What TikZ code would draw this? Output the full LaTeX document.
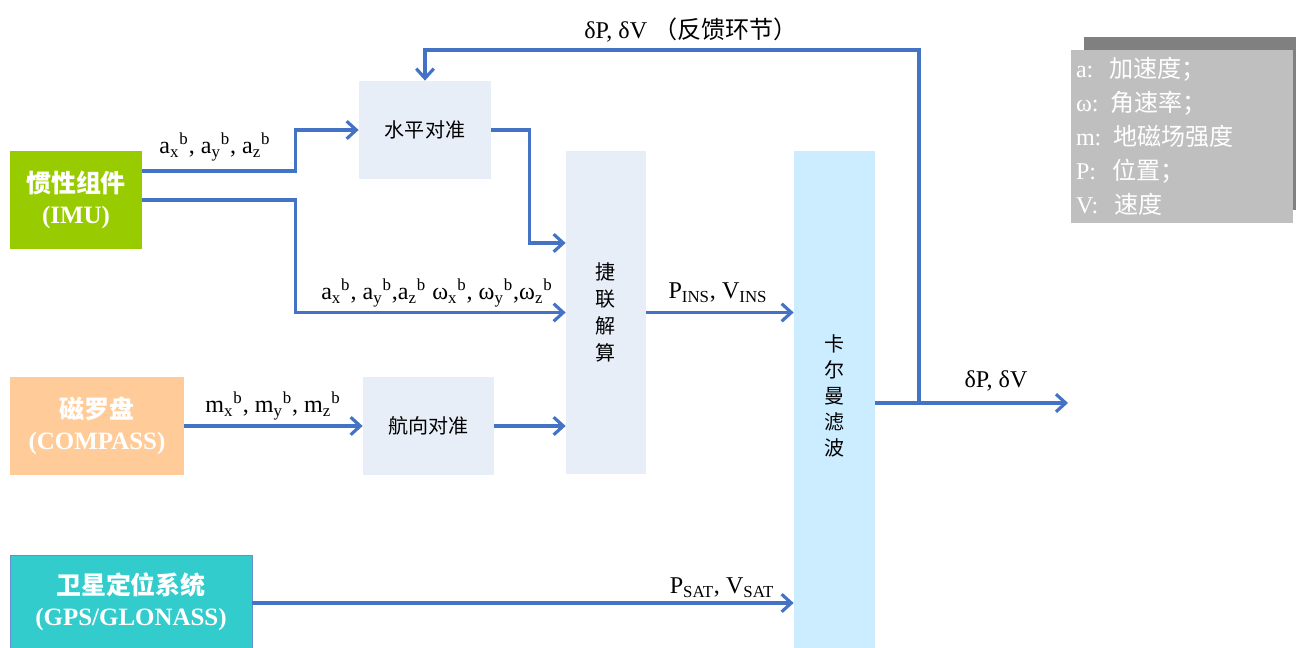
\documentclass[tikz,border=0pt]{standalone}
\usepackage{fontspec}
\setmainfont{Liberation Serif}
\newfontfamily\cjk{Noto Sans CJK SC}
\usetikzlibrary{arrows.meta}

\definecolor{lineblue}{HTML}{4472C4}
\definecolor{imugreen}{HTML}{99CC00}
\definecolor{compasspeach}{HTML}{FFCC99}
\definecolor{gpscyan}{HTML}{33CCCC}
\definecolor{algofill}{HTML}{E8EEF8}
\definecolor{kffill}{HTML}{CCECFF}
\definecolor{notegray}{HTML}{BFBFBF}
\definecolor{shadegray}{HTML}{808080}

\newcommand{\zh}[1]{{\cjk #1}}
\newcommand{\lo}[1]{\textsubscript{#1}}
\newcommand{\hi}[1]{\textsuperscript{#1}}

\begin{document}
\begin{tikzpicture}[line cap=butt,line join=miter,
  flow/.style={draw=lineblue,line width=1.8pt,-{Straight Barb[length=5.5pt,width=10pt,line width=1.8pt]}},
  source/.style={inner sep=0pt,align=center,text=white,font=\bfseries\fontsize{14.2}{17.6}\selectfont},
  algo/.style={fill=algofill,inner sep=0pt,align=center,font=\fontsize{11.4}{15.4}\selectfont},
  lbl/.style={inner sep=0pt,font=\fontsize{13.7}{16}\selectfont}]
  \useasboundingbox (0,0) rectangle (25.92,12.96);
  \clip (0,0) rectangle (25.92,12.96);

  % sources
  \node[source,fill=imugreen,minimum width=2.64cm,minimum height=1.96cm] (imu) at (1.52,8.96)
    {\zh{惯性组件}\\(IMU)};
  \node[source,fill=compasspeach,minimum width=3.48cm,minimum height=1.96cm] (compass) at (1.94,4.44)
    {\zh{磁罗盘}\\(COMPASS)};
  \node[source,fill=gpscyan,draw=lineblue!80,line width=0.5pt,minimum width=4.84cm,minimum height=1.86cm] (gps) at (2.62,0.93)
    {\zh{卫星定位系统}\\(GPS/GLONASS)};

  % processing blocks
  \node[algo,minimum width=2.64cm,minimum height=1.96cm] (level) at (8.50,10.36) {\zh{水平对准}};
  \node[algo,minimum width=2.62cm,minimum height=1.96cm] (heading) at (8.57,4.44) {\zh{航向对准}};
  \node[algo,minimum width=1.60cm,minimum height=6.46cm] (sins) at (12.12,6.71)
    {\zh{捷}\\\zh{联}\\\zh{解}\\\zh{算}};
  \node[algo,fill=kffill,font=\fontsize{11.4}{14.8}\selectfont,minimum width=1.62cm,minimum height=9.94cm,
    text depth=0.16cm] (kf) at (16.69,4.97)
    {\zh{卡}\\\zh{尔}\\\zh{曼}\\\zh{滤}\\\zh{波}};

  % legend
  \node[fill=shadegray,minimum width=4.44cm,minimum height=3.46cm] (noteshade) at (23.90,10.49) {};
  \node[fill=notegray,text=white,inner xsep=0.1cm,inner ysep=0pt,minimum width=4.44cm,minimum height=3.46cm,
    text width=4.24cm,align=left,font=\fontsize{13.7}{19.4}\selectfont] (note) at (23.64,10.23)
    {a:\ \ \zh{加速度；}\\ω: \zh{角速率；}\\m: \zh{地磁场强度}\\P:\ \ \zh{位置；}\\V:\ \ \zh{速度}};

  % connectors
  \coordinate (tap) at (18.38,4.90);
  \coordinate (out) at (21.36,4.90);
  \coordinate (fbtop) at (18.38,11.96);
  \draw[flow] ([yshift=0.58cm]imu.east) -- ++(3.06,0) |- (level.west);
  \draw[flow] (imu.east) -- ++(3.06,0) |- (sins.west);
  \draw[flow] (level.east) -- ++(0.76,0) |- ([yshift=1.39cm]sins.west);
  \draw[flow] (compass) -- (heading);
  \draw[flow] (heading.east) -- (heading.east -| sins.west);
  \draw[flow] (sins.east) -- (sins.east -| kf.west);
  \draw[flow] ([yshift=-0.03cm]gps.east) -- ([yshift=-0.03cm]gps.east -| kf.west);
  \draw[flow] (kf.east |- out) -- (out);
  \draw[flow] (tap) -- (fbtop) -| (level.north);

  % labels
  \node[lbl] (accel) at (4.30,10.02) {a\lo{x}\hi{b}, a\lo{y}\hi{b}, a\lo{z}\hi{b}};
  \node[lbl] (imuraw) at (8.74,7.10) {a\lo{x}\hi{b}, a\lo{y}\hi{b},a\lo{z}\hi{b} ω\lo{x}\hi{b}, ω\lo{y}\hi{b},ω\lo{z}\hi{b}};
  \node[lbl] (magn) at (5.46,4.84) {m\lo{x}\hi{b}, m\lo{y}\hi{b}, m\lo{z}\hi{b}};
  \node[lbl] (insout) at (14.36,7.10) {P\lo{INS}, V\lo{INS}};
  \node[lbl] (satout) at (14.44,1.20) {P\lo{SAT}, V\lo{SAT}};
  \node[lbl] (kfout) at (19.92,5.34) {δP, δV};
  \node[lbl] (fblbl) at (13.82,12.36) {δP, δV \zh{（反馈环节）}};
\end{tikzpicture}
\end{document}
